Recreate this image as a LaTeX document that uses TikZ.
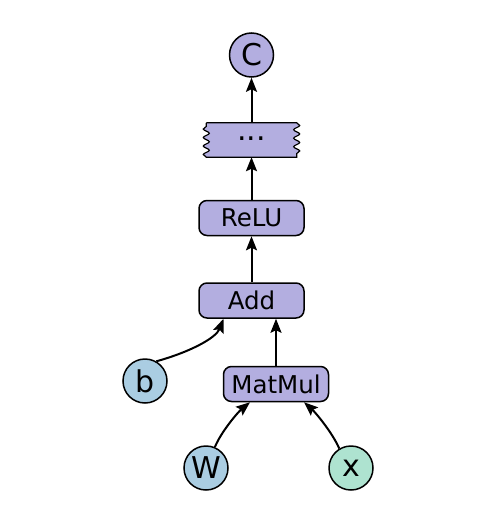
\documentclass[tikz,border=0pt]{standalone}
\usepackage{fontspec}
\setmainfont{DejaVu Sans}
\usetikzlibrary{arrows.meta,decorations.pathmorphing,backgrounds}
\definecolor{opfill}{HTML}{B3AEE0}
\definecolor{inblue}{HTML}{AACDE2}
\definecolor{ingreen}{HTML}{AEE3D0}
\begin{document}
\begin{tikzpicture}[x=1pt,y=-1pt,
  opbox/.style={draw=black, line width=1.5pt, fill=opfill, rounded corners=8pt,
    minimum width=105pt, minimum height=35pt, inner sep=0pt,
    font=\fontsize{24.5}{28}\selectfont},
  valnode/.style={circle, draw=black, line width=1.5pt, minimum size=44pt,
    inner sep=0pt, font=\fontsize{30}{34}\selectfont},
  wavebox/.style={minimum width=90pt, minimum height=34pt, inner sep=0pt,
    text height=1pt, text depth=0pt, font=\fontsize{30}{34}\selectfont},
  wavy/.style={decoration={snake, segment length=8.5pt, amplitude=3pt}},
  flow/.style={line width=2pt, -{Stealth[length=14pt,width=11pt,inset=2.5pt]}}]
\useasboundingbox (0,0) rectangle (500,524);
\node[valnode, fill=opfill] (C) at (251.5,55) {C};
\node[wavebox] (dots) at (251.5,140) {...};
\begin{scope}[on background layer]
\draw[line width=1.2pt, fill=opfill] (dots.north west) -- (dots.north east)
  decorate[wavy]{-- (dots.south east)} -- (dots.south west)
  decorate[wavy]{-- (dots.north west)} -- cycle;
\end{scope}
\node[opbox] (relu) at (251.5,218) {ReLU};
\node[opbox] (add) at (251.5,300.5) {Add};
\node[opbox] (matmul) at (276,384) {MatMul};
\node[valnode, fill=inblue] (b) at (145,381) {b};
\node[valnode, fill=inblue] (W) at (206,468) {W};
\node[valnode, fill=ingreen] (x) at (351,468) {x};
\draw[flow] (dots.north) -- (C.south);
\draw[flow] (relu.north) -- (dots.south);
\draw[flow] (add.north) -- (relu.south);
\draw[flow] (matmul.north) -- (matmul.north |- add.south);
\draw[flow] (b.60) .. controls (190,352) and (216,338) .. ([xshift=-28pt]add.south);
\draw[flow] (W.67) .. controls (221,432) and (238,412) .. ([xshift=-26pt]matmul.south);
\draw[flow] (x.121) .. controls (332,432) and (315,412) .. ([xshift=28pt]matmul.south);
\end{tikzpicture}
\end{document}
